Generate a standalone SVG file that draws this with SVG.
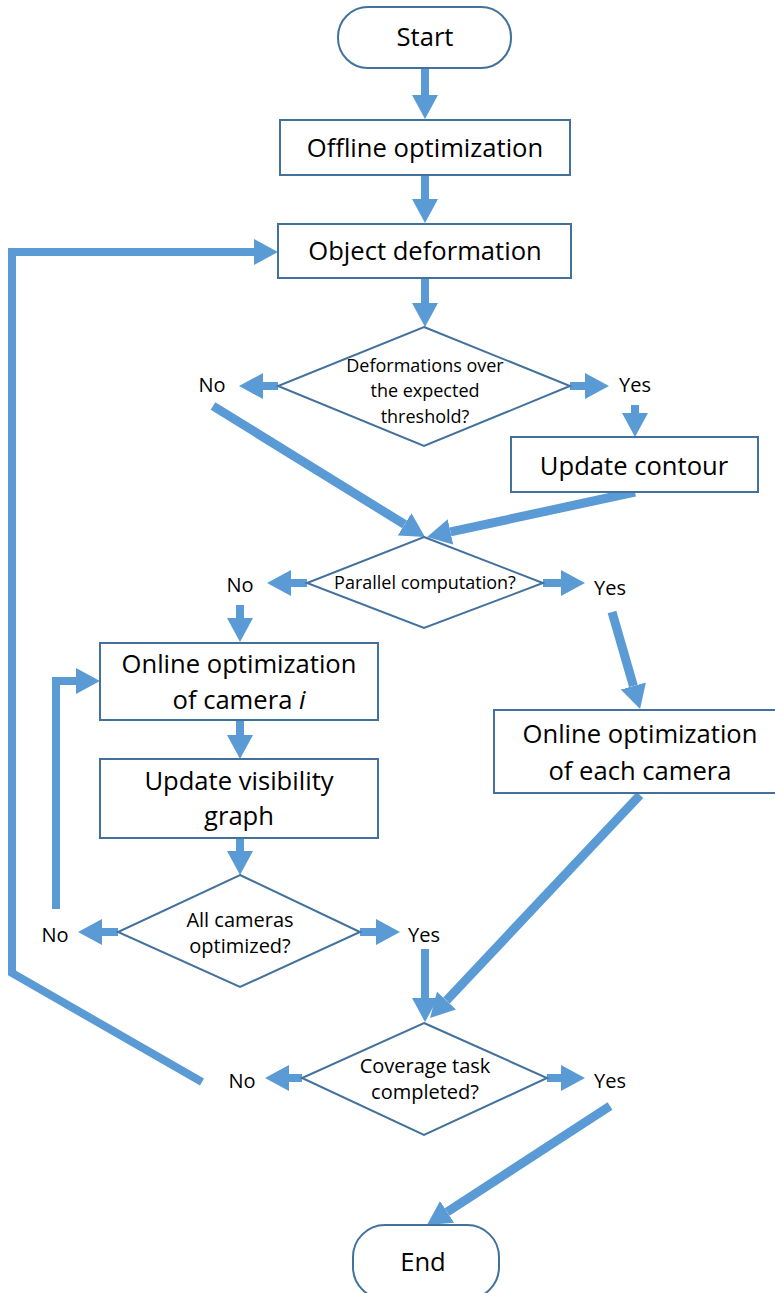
<svg xmlns="http://www.w3.org/2000/svg" width="775" height="1293" viewBox="0 0 775 1293">
  <style>
    .box { fill: #FFFFFF; stroke: #41719C; stroke-width: 2; }
    .t { font-family: "Open Sans", "Liberation Sans", sans-serif; fill: #000000; text-anchor: middle; }
    .big { font-size: 25.6px; }
    .mid { font-size: 18px; }
    .lbl { font-size: 20px; }
    .c { fill: none; stroke: #5B9BD5; stroke-width: 8; stroke-linecap: butt; stroke-linejoin: miter; }
    .d { stroke-width: 9; }
  </style>
  <defs>
    <marker id="ah" markerUnits="userSpaceOnUse" markerWidth="24" markerHeight="26" viewBox="0 0 24 26" refX="0" refY="13" orient="auto">
      <path d="M0,0 L24,13 L0,26 z" fill="#5B9BD5"/>
    </marker>
  </defs>

  <g id="connectors">
    <line class="c" x1="425" y1="68" x2="425" y2="95" marker-end="url(#ah)"/>
    <line class="c" x1="425" y1="175" x2="425" y2="199" marker-end="url(#ah)"/>
    <line class="c" x1="425" y1="278" x2="425" y2="303" marker-end="url(#ah)"/>
    <line class="c" x1="278" y1="386" x2="263" y2="386" marker-end="url(#ah)"/>
    <line class="c" x1="570" y1="386" x2="585" y2="386" marker-end="url(#ah)"/>
    <line class="c" x1="635" y1="405" x2="635" y2="413" marker-end="url(#ah)"/>
    <line class="c d" x1="213" y1="406" x2="404.6" y2="524.4" marker-end="url(#ah)"/>
    <line class="c d" x1="635" y1="492" x2="450.5" y2="531.9" marker-end="url(#ah)"/>
    <line class="c" x1="307" y1="583" x2="291" y2="583" marker-end="url(#ah)"/>
    <line class="c" x1="543" y1="583" x2="561" y2="583" marker-end="url(#ah)"/>
    <line class="c" x1="240" y1="605" x2="240" y2="618" marker-end="url(#ah)"/>
    <line class="c d" x1="612" y1="612" x2="633.4" y2="686" marker-end="url(#ah)"/>
    <line class="c" x1="240" y1="720" x2="240" y2="735" marker-end="url(#ah)"/>
    <line class="c" x1="240" y1="838" x2="240" y2="851" marker-end="url(#ah)"/>
    <line class="c" x1="118" y1="932" x2="102" y2="932" marker-end="url(#ah)"/>
    <polyline class="c" points="56,909 56,681 76,681" marker-end="url(#ah)"/>
    <line class="c" x1="360" y1="932" x2="376" y2="932" marker-end="url(#ah)"/>
    <line class="c" x1="425" y1="949" x2="425" y2="998" marker-end="url(#ah)"/>
    <line class="c d" x1="640" y1="795" x2="446.5" y2="1000.5" marker-end="url(#ah)"/>
    <line class="c" x1="302" y1="1078" x2="289" y2="1078" marker-end="url(#ah)"/>
    <line class="c" x1="547" y1="1078" x2="561" y2="1078" marker-end="url(#ah)"/>
    <polyline class="c" points="202,1082 12,973 12,252 254,252" marker-end="url(#ah)"/>
    <line class="c d" x1="610" y1="1106" x2="447.1" y2="1211.9" marker-end="url(#ah)"/>
  </g>

  <g id="start">
    <rect class="box" x="338" y="7" width="173" height="61" rx="30" ry="30"/>
    <text class="t big" x="425" y="46">Start</text>
  </g>
  <g id="offline">
    <rect class="box" x="280" y="120" width="290" height="55"/>
    <text class="t big" x="425" y="157">Offline optimization</text>
  </g>
  <g id="object">
    <rect class="box" x="278" y="224" width="293" height="54"/>
    <text class="t big" x="425" y="260">Object deformation</text>
  </g>
  <g id="decision-deform">
    <polygon class="box" points="424,327 570,386 424,446 278,386"/>
    <text class="t mid" x="425" y="372">Deformations over</text>
    <text class="t mid" x="425" y="397">the expected</text>
    <text class="t mid" x="425" y="423">threshold?</text>
  </g>
  <g id="label-no-1"><text class="t lbl" x="212" y="392">No</text></g>
  <g id="label-yes-1"><text class="t lbl" x="635" y="392">Yes</text></g>
  <g id="update-contour">
    <rect class="box" x="511" y="437" width="247" height="55"/>
    <text class="t big" x="634" y="475">Update contour</text>
  </g>
  <g id="decision-parallel">
    <polygon class="box" points="424,537 543,583 424,628 307,583"/>
    <text class="t mid" x="425" y="589">Parallel computation?</text>
  </g>
  <g id="label-no-2"><text class="t lbl" x="240" y="592">No</text></g>
  <g id="label-yes-2"><text class="t lbl" x="610" y="595">Yes</text></g>
  <g id="online-camera-i">
    <rect class="box" x="100" y="643" width="278" height="77"/>
    <text class="t big" x="239" y="673">Online optimization</text>
    <text class="t big" x="239" y="709">of camera <tspan font-style="italic">i</tspan></text>
  </g>
  <g id="update-visibility">
    <rect class="box" x="100" y="759" width="278" height="79"/>
    <text class="t big" x="239" y="790">Update visibility</text>
    <text class="t big" x="239" y="825">graph</text>
  </g>
  <g id="decision-all">
    <polygon class="box" points="240,875 360,932 240,987 118,932"/>
    <text class="t lbl" x="240" y="927">All cameras</text>
    <text class="t lbl" x="240" y="953">optimized?</text>
  </g>
  <g id="label-no-3"><text class="t lbl" x="55" y="942">No</text></g>
  <g id="label-yes-3"><text class="t lbl" x="424" y="942">Yes</text></g>
  <g id="online-each">
    <rect class="box" x="494" y="710" width="290" height="83"/>
    <text class="t big" x="640" y="743">Online optimization</text>
    <text class="t big" x="640" y="780">of each camera</text>
  </g>
  <g id="decision-coverage">
    <polygon class="box" points="424,1023 547,1078 424,1135 302,1078"/>
    <text class="t lbl" x="425" y="1073">Coverage task</text>
    <text class="t lbl" x="425" y="1099">completed?</text>
  </g>
  <g id="label-no-4"><text class="t lbl" x="242" y="1088">No</text></g>
  <g id="label-yes-4"><text class="t lbl" x="610" y="1088">Yes</text></g>
  <g id="end">
    <rect class="box" x="353" y="1225" width="146" height="74" rx="32" ry="32"/>
    <text class="t big" x="423" y="1271">End</text>
  </g>
</svg>
